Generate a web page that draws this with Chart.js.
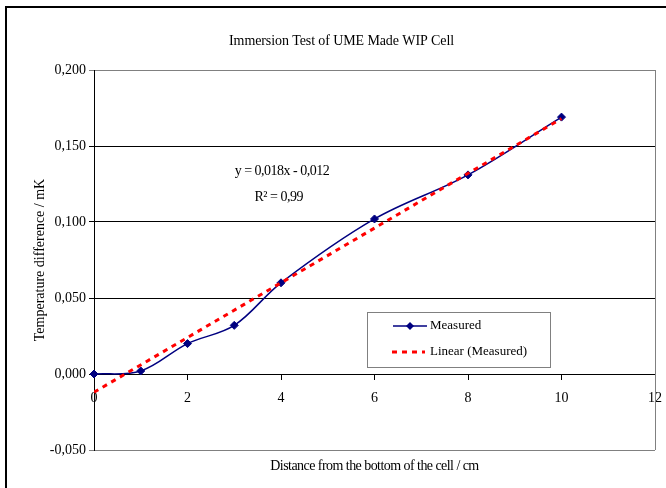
<!DOCTYPE html>
<html><head><meta charset="utf-8">
<script src="https://cdn.jsdelivr.net/npm/chart.js@4/dist/chart.umd.min.js"></script>
<style>
html,body{margin:0;padding:0;background:#fff;overflow:hidden;}
#frame{position:absolute;left:5px;top:6px;width:700px;height:520px;border:2px solid #000;box-sizing:border-box;}
#wrap{position:absolute;left:0;top:0;width:666px;height:488px;}
</style></head><body>
<div id="frame"></div>
<div id="wrap"><canvas id="c" width="666" height="488"></canvas></div>
<script>
const distances = [0, 1, 2, 3, 4, 6, 8, 10];
const measured = [0.000, 0.002, 0.020, 0.032, 0.060, 0.102, 0.131, 0.169];
const trendDistances = [0, 10];
const trendValues = [-0.012, 0.168];
const xTicks = [0, 2, 4, 6, 8, 10, 12];
const yTicks = [-0.05, 0, 0.05, 0.1, 0.15, 0.2];
const equationLines = ['y = 0,018x - 0,012', 'R² = 0,99'];
const legendLabels = ['Measured', 'Linear (Measured)'];
const chartTitle = 'Immersion Test of UME Made WIP Cell';
const xTitle = 'Distance from the bottom of the cell / cm';
const yTitle = 'Temperature difference / mK';

const SERIF = "'Liberation Serif', 'Times New Roman', serif";
Chart.defaults.font.family = SERIF;
Chart.defaults.color = '#000';

const fmt = v => v.toFixed(3).replace('.', ',');

const spacingByText = {};
spacingByText[chartTitle] = '-0.1px';
spacingByText[xTitle] = '-0.55px';

const condensedBoxes = {
  id: 'condensedBoxes',
  afterLayout(chart) {
    chart.boxes.forEach(b => {
      if (b._condensed || b.axis || !b.options || typeof b.options.text !== 'string') return;
      const sp = spacingByText[b.options.text];
      if (!sp) return;
      const orig = b.draw;
      b.draw = function (ca) {
        const ctx = this.ctx;
        const prev = ctx.letterSpacing;
        ctx.letterSpacing = sp;
        orig.call(this, ca);
        ctx.letterSpacing = prev || '0px';
      };
      b._condensed = true;
    });
  }
};

const plotBorder = {
  id: 'plotBorder',
  beforeDatasetsDraw(chart) {
    const {ctx, chartArea: a} = chart;
    ctx.save();
    ctx.strokeStyle = '#808080';
    ctx.lineWidth = 1;
    ctx.beginPath();
    ctx.moveTo(a.right + 0.5, a.top);
    ctx.lineTo(a.right + 0.5, a.bottom);
    ctx.stroke();
    ctx.restore();
  }
};

const annotations = {
  id: 'annotations',
  afterDatasetsDraw(chart) {
    const {ctx, scales: {x, y}} = chart;
    ctx.save();
    ctx.fillStyle = '#000';
    ctx.textAlign = 'center';
    ctx.textBaseline = 'middle';
    ctx.font = '14px ' + SERIF;
    ctx.letterSpacing = '-0.5px';
    ctx.fillText(equationLines[0], x.getPixelForValue(4.02), y.getPixelForValue(0.1336));
    ctx.fillText(equationLines[1], x.getPixelForValue(3.95), y.getPixelForValue(0.1164));
    ctx.letterSpacing = '0px';

    // legend box
    const L = 367, T = 312, W = 183, H = 55;
    ctx.fillStyle = '#fff';
    ctx.fillRect(L, T, W, H);
    ctx.strokeStyle = '#808080';
    ctx.lineWidth = 1;
    ctx.strokeRect(L + 0.5, T + 0.5, W, H);
    const ds = chart.data.datasets;
    const m = ds[1];
    ctx.strokeStyle = m.borderColor;
    ctx.lineWidth = m.borderWidth;
    ctx.beginPath(); ctx.moveTo(393, 326); ctx.lineTo(427, 326); ctx.stroke();
    ctx.fillStyle = m.pointBackgroundColor;
    ctx.beginPath();
    ctx.moveTo(410, 322); ctx.lineTo(414, 326); ctx.lineTo(410, 330); ctx.lineTo(406, 326); ctx.closePath(); ctx.fill();
    const t = ds[0];
    ctx.strokeStyle = t.borderColor;
    ctx.lineWidth = t.borderWidth;
    ctx.setLineDash(t.borderDash);
    ctx.beginPath(); ctx.moveTo(392, 352); ctx.lineTo(425, 352); ctx.stroke();
    ctx.setLineDash([]);
    ctx.fillStyle = '#000';
    ctx.textAlign = 'left';
    ctx.font = '13px ' + SERIF;
    ctx.fillText(legendLabels[0], 430, 326);
    ctx.fillText(legendLabels[1], 430, 352);
    ctx.restore();
  }
};

new Chart(document.getElementById('c'), {
  type: 'line',
  data: {
    datasets: [
      {
        label: legendLabels[1],
        data: trendDistances.map((d, i) => ({x: d, y: trendValues[i]})),
        borderColor: '#ff0000',
        borderWidth: 3,
        borderDash: [5, 5],
        pointRadius: 0,
        tension: 0,
        fill: false
      },
      {
        label: legendLabels[0],
        data: distances.map((d, i) => ({x: d, y: measured[i]})),
        borderColor: '#000080',
        borderWidth: 1.5,
        pointStyle: 'rectRot',
        pointRadius: 4,
        pointBackgroundColor: '#000080',
        pointBorderColor: '#000080',
        pointBorderWidth: 1,
        tension: 0.35,
        fill: false,
        clip: false
      }
    ]
  },
  options: {
    responsive: false,
    devicePixelRatio: 1,
    animation: false,
    events: [],
    layout: {padding: {left: 28, right: 11, top: 0, bottom: 0}},
    plugins: {
      legend: {display: false},
      tooltip: {enabled: false},
      title: {
        display: true,
        text: chartTitle,
        font: {size: 14, weight: 'normal', family: SERIF},
        color: '#000',
        padding: {top: 32.6, bottom: 20.6}
      },
      subtitle: {
        display: true,
        position: 'bottom',
        fullSize: false,
        text: xTitle,
        font: {size: 14, weight: 'normal', family: SERIF},
        color: '#000',
        padding: {top: 7.6, bottom: 13.6}
      }
    },
    scales: {
      x: {
        type: 'linear',
        position: {y: 0},
        min: 0, max: 12,
        afterBuildTicks: s => { s.ticks = xTicks.map(v => ({value: v})); },
        afterFit: s => { s.paddingLeft = 0; s.paddingRight = 0; },
        ticks: {font: {size: 14}, color: '#000', padding: 11, maxRotation: 0, autoSkip: false},
        grid: {drawOnChartArea: false, drawTicks: true, tickLength: 5, color: '#000'},
        border: {color: '#000', width: 1}
      },
      y: {
        type: 'linear',
        position: 'left',
        min: -0.05, max: 0.2,
        afterBuildTicks: s => { s.ticks = yTicks.map(v => ({value: v})); },
        afterFit: s => { s.width = 66; s.paddingTop = 0; s.paddingBottom = 0; },
        ticks: {font: {size: 14}, color: '#000', padding: 3, callback: v => fmt(v), autoSkip: false},
        grid: {
          color: c => (c.tick && (Math.abs(c.tick.value - 0.2) < 1e-9 || Math.abs(c.tick.value + 0.05) < 1e-9)) ? '#808080' : '#000',
          tickLength: 5,
          drawTicks: true
        },
        border: {color: '#000', width: 1},
        title: {
          display: true,
          text: yTitle,
          font: {size: 14, family: SERIF},
          color: '#000',
          padding: {top: 4, bottom: 4}
        }
      }
    }
  },
  plugins: [condensedBoxes, plotBorder, annotations]
});
</script>
</body></html>
